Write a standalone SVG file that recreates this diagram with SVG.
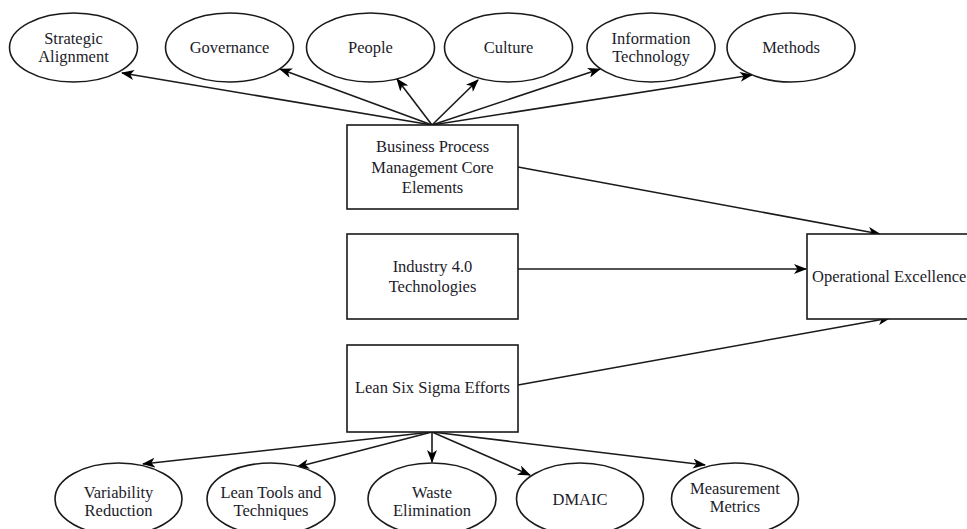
<svg xmlns="http://www.w3.org/2000/svg" width="967" height="529" viewBox="0 0 967 529">
<defs>
<marker id="arr" markerWidth="13" markerHeight="10" refX="12" refY="5" orient="auto" markerUnits="userSpaceOnUse">
<path d="M0,0 L13,5 L0,10 L3.5,5 z" fill="#000"/>
</marker>
<style>
.n{fill:#fff;stroke:#1a1a1a;stroke-width:1.6}
.t{font-family:"Liberation Serif","Times New Roman",serif;font-size:16.5px;fill:#1c1c2a;text-anchor:middle}
.c{fill:none;stroke:#1a1a1a;stroke-width:1.6;marker-end:url(#arr)}
</style>
</defs>
<rect width="967" height="529" fill="#fff"/>
<g id="connectors">
<line class="c" x1="432" y1="125" x2="122" y2="73"/>
<line class="c" x1="432" y1="125" x2="280" y2="69"/>
<line class="c" x1="432" y1="125" x2="397" y2="79"/>
<line class="c" x1="432" y1="125" x2="478" y2="80"/>
<line class="c" x1="432" y1="125" x2="600" y2="69"/>
<line class="c" x1="432" y1="125" x2="752" y2="75"/>
<line class="c" x1="518" y1="167" x2="880" y2="234"/>
<line class="c" x1="518" y1="269" x2="806" y2="269"/>
<line class="c" x1="518" y1="385" x2="890" y2="318"/>
<line class="c" x1="432" y1="432" x2="143" y2="464"/>
<line class="c" x1="432" y1="432" x2="297" y2="467"/>
<line class="c" x1="432" y1="432" x2="432" y2="462"/>
<line class="c" x1="432" y1="432" x2="530" y2="475"/>
<line class="c" x1="432" y1="432" x2="705" y2="465"/>
</g>
<g id="strategic-alignment">
<ellipse class="n" cx="73.5" cy="47.5" rx="64" ry="34.5"/>
<text class="t" x="73.5" y="43.5">Strategic</text>
<text class="t" x="73.5" y="61.5">Alignment</text>
</g>
<g id="governance">
<ellipse class="n" cx="229.5" cy="47.5" rx="64" ry="34.5"/>
<text class="t" x="229.5" y="53">Governance</text>
</g>
<g id="people">
<ellipse class="n" cx="370.5" cy="47.5" rx="64" ry="34.5"/>
<text class="t" x="370.5" y="53">People</text>
</g>
<g id="culture">
<ellipse class="n" cx="508.5" cy="47.5" rx="64" ry="34.5"/>
<text class="t" x="508.5" y="53">Culture</text>
</g>
<g id="information-technology">
<ellipse class="n" cx="651" cy="47.5" rx="64" ry="34.5"/>
<text class="t" x="651" y="43.5">Information</text>
<text class="t" x="651" y="61.5">Technology</text>
</g>
<g id="methods">
<ellipse class="n" cx="791" cy="47.5" rx="64" ry="34.5"/>
<text class="t" x="791" y="53">Methods</text>
</g>
<g id="bpm-core">
<rect class="n" x="347" y="125" width="171" height="84"/>
<text class="t" x="432.5" y="152">Business Process</text>
<text class="t" x="432.5" y="172.5">Management Core</text>
<text class="t" x="432.5" y="193">Elements</text>
</g>
<g id="industry-40">
<rect class="n" x="347" y="234" width="171" height="85"/>
<text class="t" x="432.5" y="272">Industry 4.0</text>
<text class="t" x="432.5" y="292">Technologies</text>
</g>
<g id="lean-six-sigma">
<rect class="n" x="347" y="345" width="171" height="87"/>
<text class="t" x="432.5" y="393">Lean Six Sigma Efforts</text>
</g>
<g id="operational-excellence">
<rect class="n" x="807" y="234" width="170" height="85"/>
<text class="t" x="812" y="282" style="text-anchor:start">Operational Excellence</text>
</g>
<g id="variability-reduction">
<ellipse class="n" cx="118.5" cy="499" rx="63.5" ry="36"/>
<text class="t" x="118.5" y="498">Variability</text>
<text class="t" x="118.5" y="515.5">Reduction</text>
</g>
<g id="lean-tools">
<ellipse class="n" cx="271" cy="499" rx="64" ry="36"/>
<text class="t" x="271" y="498">Lean Tools and</text>
<text class="t" x="271" y="515.5">Techniques</text>
</g>
<g id="waste-elimination">
<ellipse class="n" cx="432" cy="499" rx="64" ry="36"/>
<text class="t" x="432" y="498">Waste</text>
<text class="t" x="432" y="515.5">Elimination</text>
</g>
<g id="dmaic">
<ellipse class="n" cx="580" cy="499" rx="63.5" ry="36"/>
<text class="t" x="580" y="504.5">DMAIC</text>
</g>
<g id="measurement-metrics">
<ellipse class="n" cx="735" cy="499" rx="63.5" ry="36"/>
<text class="t" x="735" y="494">Measurement</text>
<text class="t" x="735" y="511.5">Metrics</text>
</g>
</svg>
